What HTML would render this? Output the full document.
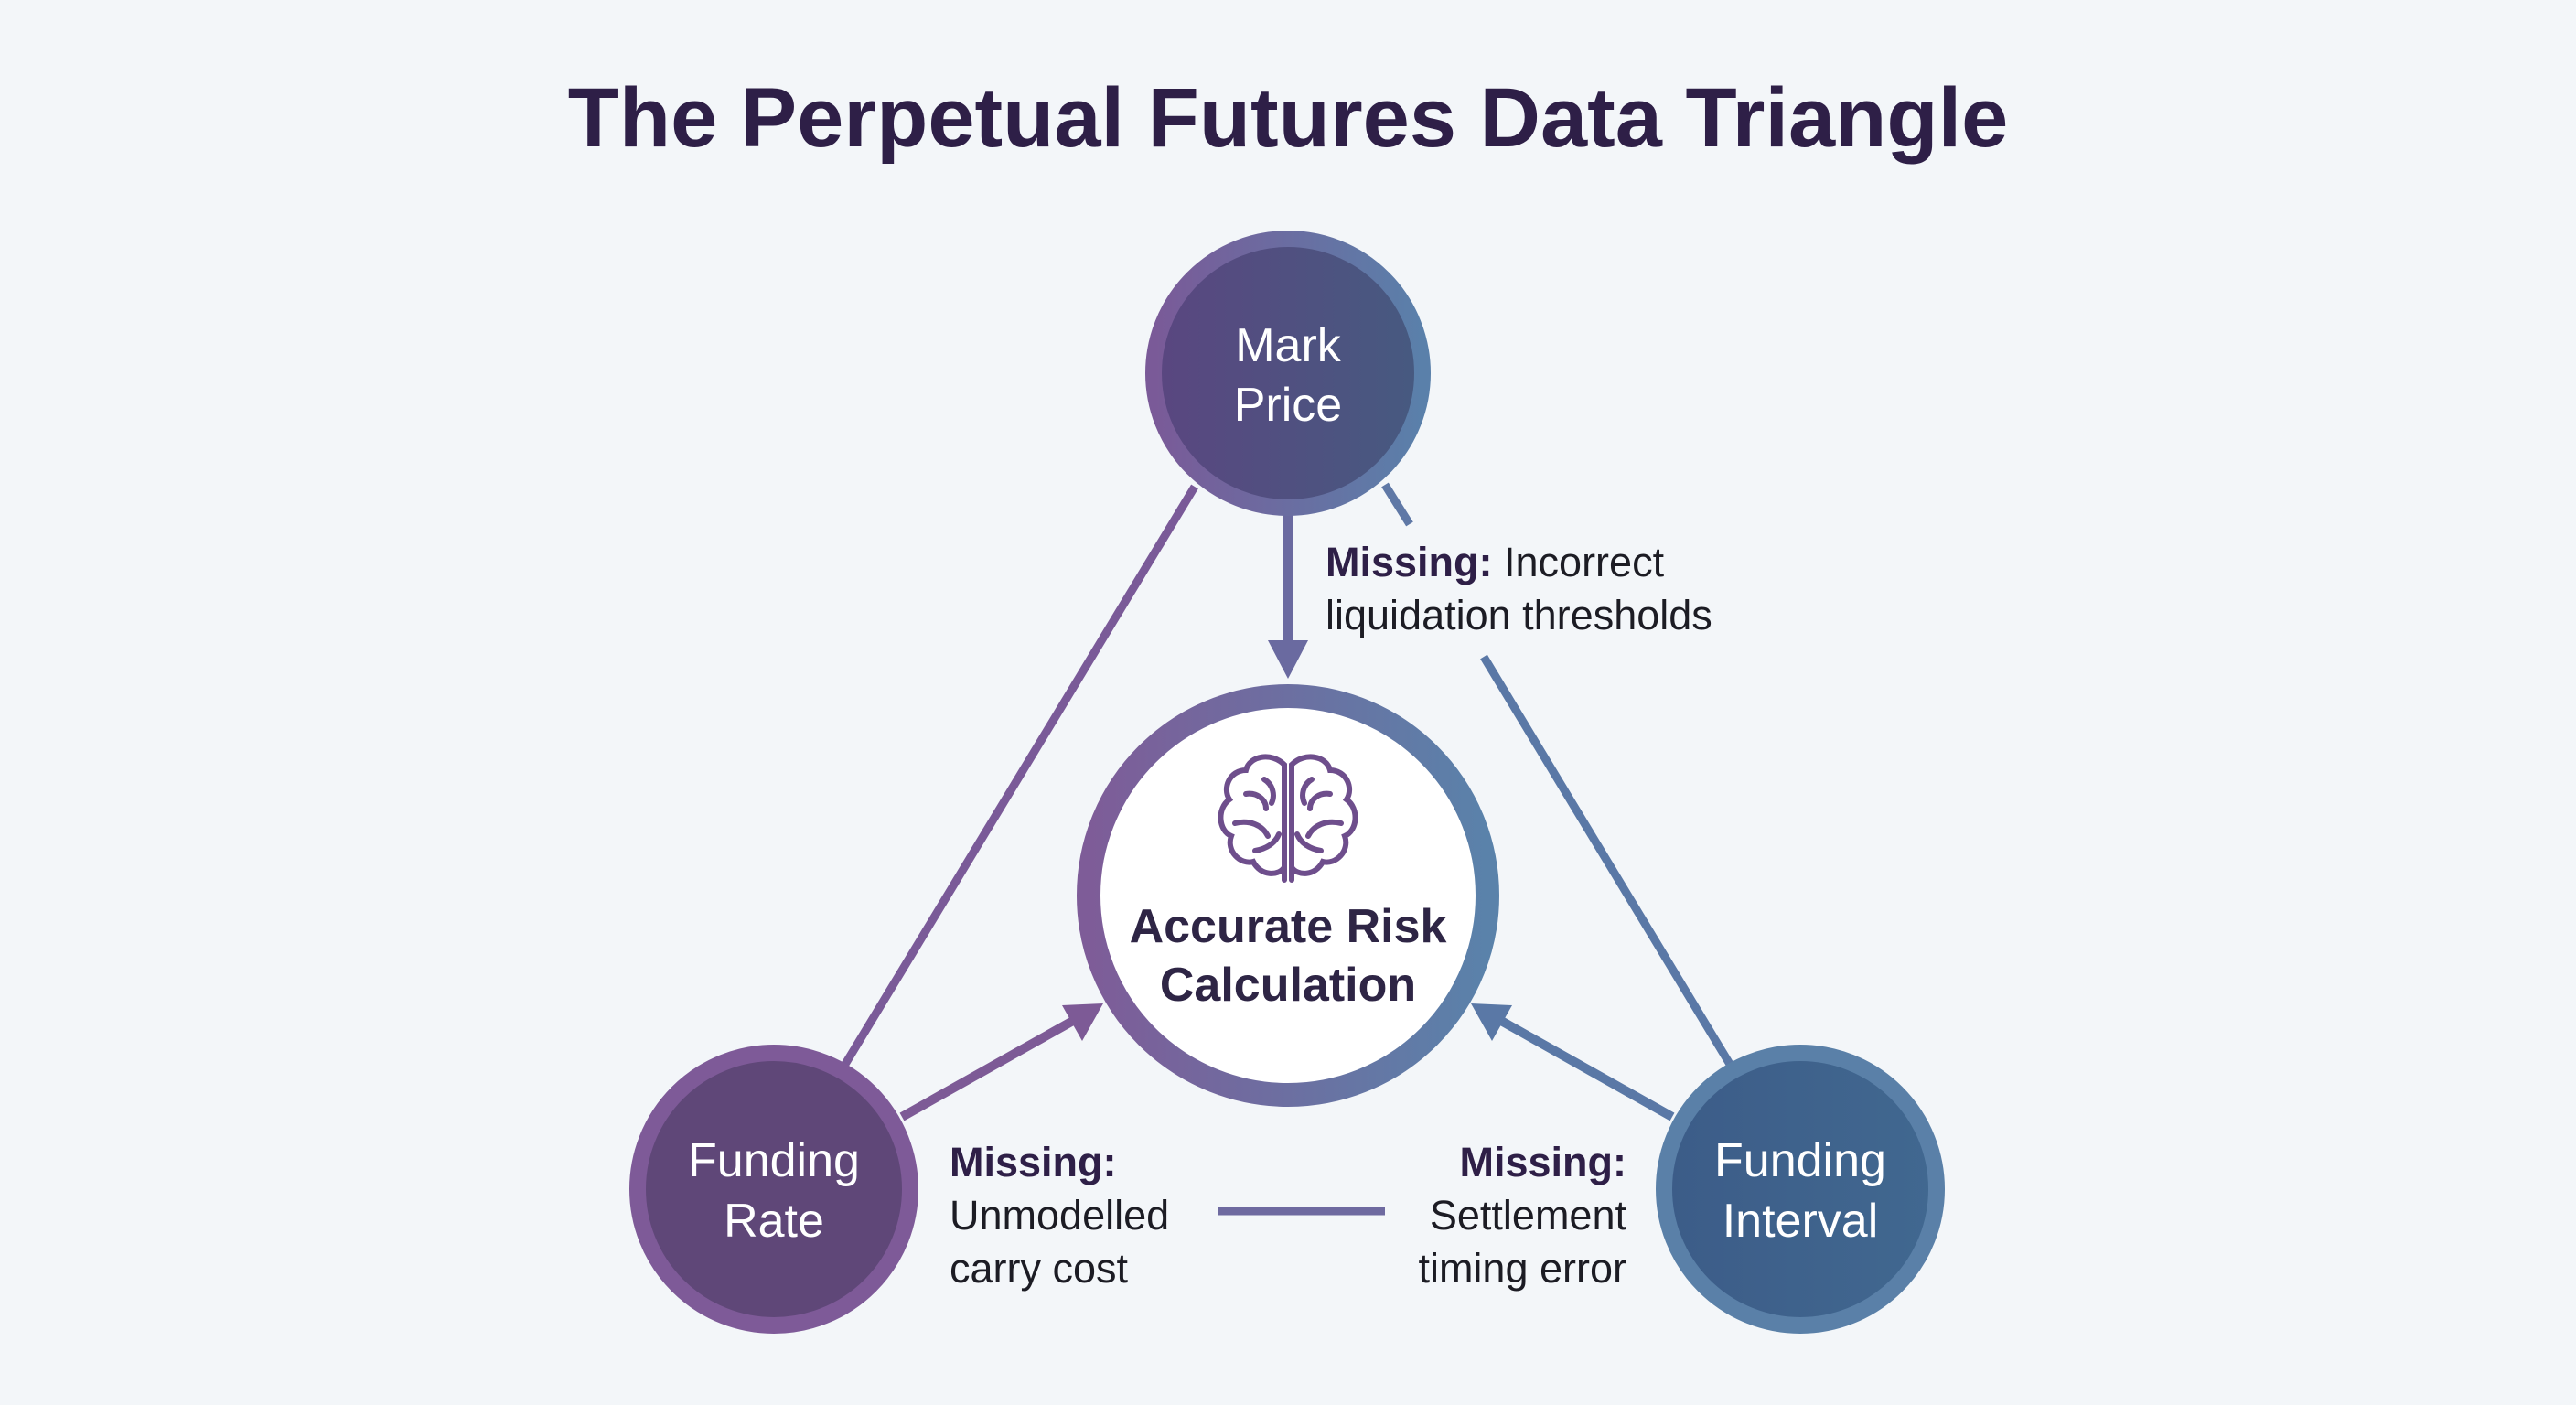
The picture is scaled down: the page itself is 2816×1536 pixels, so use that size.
<!DOCTYPE html>
<html><head><meta charset="utf-8"><style>
html,body{margin:0;padding:0;background:#f3f6f9;}
svg{display:block}
</style></head><body>
<svg width="2816" height="1536" viewBox="0 0 2816 1536" xmlns="http://www.w3.org/2000/svg" font-family="'Liberation Sans', 'DejaVu Sans', sans-serif">
<defs>
<linearGradient id="gm" x1="0" y1="0" x2="1" y2="0"><stop offset="0" stop-color="#7a5a98"/><stop offset="1" stop-color="#5a80aa"/></linearGradient>
<linearGradient id="gmi" x1="0" y1="0" x2="1" y2="0"><stop offset="0" stop-color="#5a4680"/><stop offset="1" stop-color="#465a80"/></linearGradient>
<linearGradient id="gc" x1="0" y1="0" x2="1" y2="0"><stop offset="0" stop-color="#7e5c98"/><stop offset="1" stop-color="#5a82aa"/></linearGradient>
<linearGradient id="gfi" x1="0" y1="0" x2="1" y2="0"><stop offset="0" stop-color="#3c5c88"/><stop offset="1" stop-color="#416890"/></linearGradient>
<linearGradient id="gl" x1="0" y1="1" x2="0" y2="0"><stop offset="0" stop-color="#7d5a96"/><stop offset="1" stop-color="#74609a"/></linearGradient>
</defs>
<rect width="2816" height="1536" fill="#f3f6f9"/>
<text x="1408" y="160" text-anchor="middle" font-size="92" font-weight="bold" fill="#2e1f47">The Perpetual Futures Data Triangle</text>

<!-- connectors -->
<g stroke-width="9" fill="none">
<line x1="1306" y1="532" x2="923" y2="1165" stroke="#7a5a98"/>
<line x1="1514" y1="530" x2="1541" y2="573" stroke="#5f78a6"/>
<line x1="1622" y1="718" x2="1892" y2="1165" stroke="#5a78a6"/>
<line x1="1408" y1="560" x2="1408" y2="705" stroke="#6a6aa0" stroke-width="12"/>
<line x1="986" y1="1221" x2="1180" y2="1112" stroke="#7d5a96" stroke-width="10"/>
<line x1="1828" y1="1221" x2="1634" y2="1112" stroke="#5a78a6" stroke-width="10"/>
<line x1="1331" y1="1324" x2="1514" y2="1324" stroke="#6e6aa0" stroke-width="9"/>
</g>
<polygon points="1386,700 1430,700 1408,742" fill="#6a6aa0"/>
<polygon points="1206,1097 1161,1099 1183,1138" fill="#7d5a96"/>
<polygon points="1608,1097 1653,1099 1631,1138" fill="#5a78a6"/>

<!-- mark price -->
<circle cx="1408" cy="408" r="147" fill="url(#gmi)" stroke="url(#gm)" stroke-width="18"/>
<text x="1408" y="395" text-anchor="middle" font-size="52" fill="#fff">Mark</text>
<text x="1408" y="460" text-anchor="middle" font-size="52" fill="#fff">Price</text>

<!-- center -->
<circle cx="1408" cy="979" r="218" fill="#fff" stroke="url(#gc)" stroke-width="26"/>
<g stroke="#6e4e8c" stroke-width="6" fill="none" stroke-linecap="round">
<path d="M1404,836 C1390,822 1366,826 1362,842 C1344,842 1336,862 1344,874 C1330,884 1332,908 1346,914 C1340,930 1356,946 1370,942 C1378,958 1398,958 1404,948 Z"/>
<path d="M1412,836 C1426,822 1450,826 1454,842 C1472,842 1480,862 1472,874 C1486,884 1484,908 1470,914 C1476,930 1460,946 1446,942 C1438,958 1418,958 1412,948 Z"/>
<path d="M1404,948 L1404,962 M1412,948 L1412,962"/>
<path d="M1362,868 C1374,866 1384,874 1384,884 M1350,900 C1366,896 1380,902 1386,914 M1382,852 C1392,858 1394,870 1390,878 M1372,930 C1384,928 1394,922 1398,912"/>
<path d="M1454,868 C1442,866 1432,874 1432,884 M1466,900 C1450,896 1436,902 1430,914 M1434,852 C1424,858 1422,870 1426,878 M1444,930 C1432,928 1422,922 1418,912"/>
</g>
<text x="1408" y="1030" text-anchor="middle" font-size="52" font-weight="bold" fill="#2e2545">Accurate Risk</text>
<text x="1408" y="1094" text-anchor="middle" font-size="52" font-weight="bold" fill="#2e2545">Calculation</text>

<!-- funding rate -->
<circle cx="846" cy="1300" r="149" fill="#5f4778" stroke="#7e5a98" stroke-width="18"/>
<text x="846" y="1286" text-anchor="middle" font-size="52" fill="#fff">Funding</text>
<text x="846" y="1352" text-anchor="middle" font-size="52" fill="#fff">Rate</text>

<!-- funding interval -->
<circle cx="1968" cy="1300" r="149" fill="url(#gfi)" stroke="#5a80a8" stroke-width="18"/>
<text x="1968" y="1286" text-anchor="middle" font-size="52" fill="#fff">Funding</text>
<text x="1968" y="1352" text-anchor="middle" font-size="52" fill="#fff">Interval</text>

<!-- labels -->
<g font-size="45" fill="#1c1c24">
<text x="1449" y="630"><tspan font-weight="bold" fill="#2e1f47">Missing:</tspan> Incorrect</text>
<text x="1449" y="688">liquidation thresholds</text>
<text x="1038" y="1286" font-weight="bold" fill="#2e1f47">Missing:</text>
<text x="1038" y="1344">Unmodelled</text>
<text x="1038" y="1402">carry cost</text>
<text x="1778" y="1286" text-anchor="end" font-weight="bold" fill="#2e1f47">Missing:</text>
<text x="1778" y="1344" text-anchor="end">Settlement</text>
<text x="1778" y="1402" text-anchor="end">timing error</text>
</g>
</svg>
</body></html>
